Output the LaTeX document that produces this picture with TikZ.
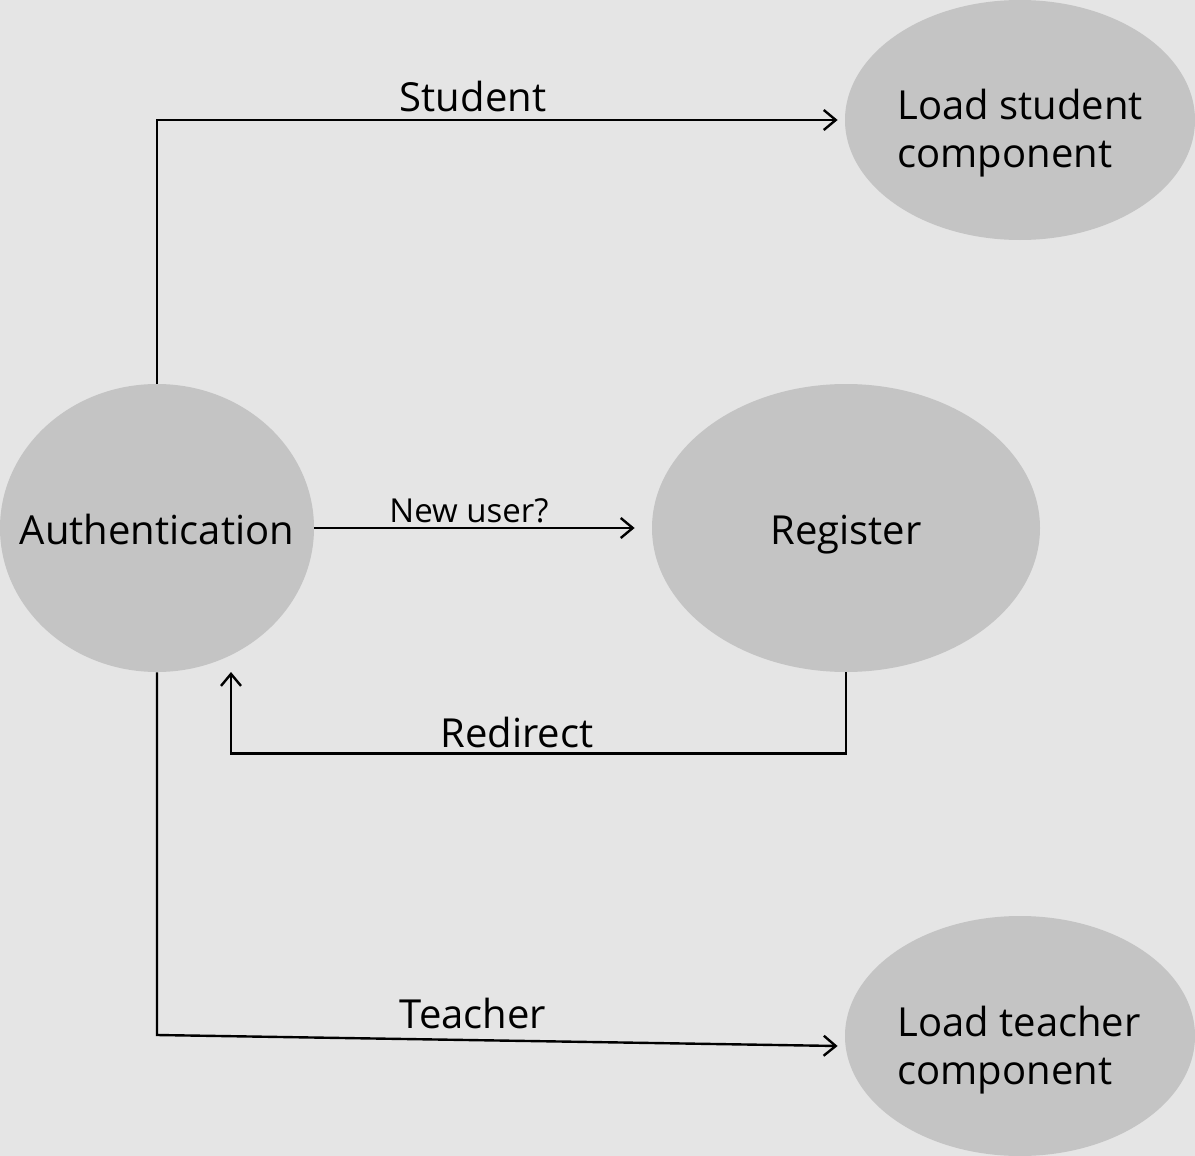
\documentclass[tikz,border=0pt]{standalone}
\usepackage{fontspec}
\setmainfont{Open Sans}
\usetikzlibrary{arrows.meta, shapes.geometric, positioning}

\begin{document}
\begin{tikzpicture}[x=0.5pt, y=-0.5pt,
  state/.style={ellipse, fill=black!23, draw=none, inner sep=0pt},
  txt/.style={inner sep=0pt, anchor=base, font=\fontsize{20}{24}\selectfont},
  arr/.style={line width=1.2pt, -{Straight Barb[length=6pt, width=10pt, line width=1.2pt]}}]

\fill[black!10] (0,0) rectangle (1195,1156);
\useasboundingbox (0,0) rectangle (1195,1156);

% states
\node[state, minimum width=157pt, minimum height=144pt] (auth) at (157,528) {};
\node[state, minimum width=194pt, minimum height=144pt] (reg) at (846,528) {};
\node[state, minimum width=175pt, minimum height=120pt] (stu) at (1020,120) {};
\node[state, minimum width=175pt, minimum height=120pt] (tea) at (1020,1036) {};

\node[txt] (auth-t) at (157,544) {Authentication};
\node[txt] (reg-t) at (846,544) {Register};
\node[txt, anchor=base west, align=left] (stu-t) at (897,168) {Load student\\component};
\node[txt, anchor=base west, align=left] (tea-t) at (897,1084) {Load teacher\\component};

\coordinate (back) at (231,672);

% connectors
\draw[arr] (auth.north) |- ([xshift=-3.5pt]stu.west);
\draw[arr, shorten >=8.5pt] (auth.east) -- (reg.west);
\draw[arr] (reg.south) -- ++(0,81) -| (back);
\draw[arr] (auth.south) -- (157,1035) -- ([xshift=-3.5pt, yshift=-5pt]tea.west);

% labels
\node[txt] (l-stu) at (473,112) {Student};
\node[txt, font=\fontsize{16.5}{20}\selectfont] (l-new) at (469,522) {New user?};
\node[txt] (l-red) at (517,747) {Redirect};
\node[txt] (l-tea) at (473,1028) {Teacher};

\end{tikzpicture}
\end{document}
